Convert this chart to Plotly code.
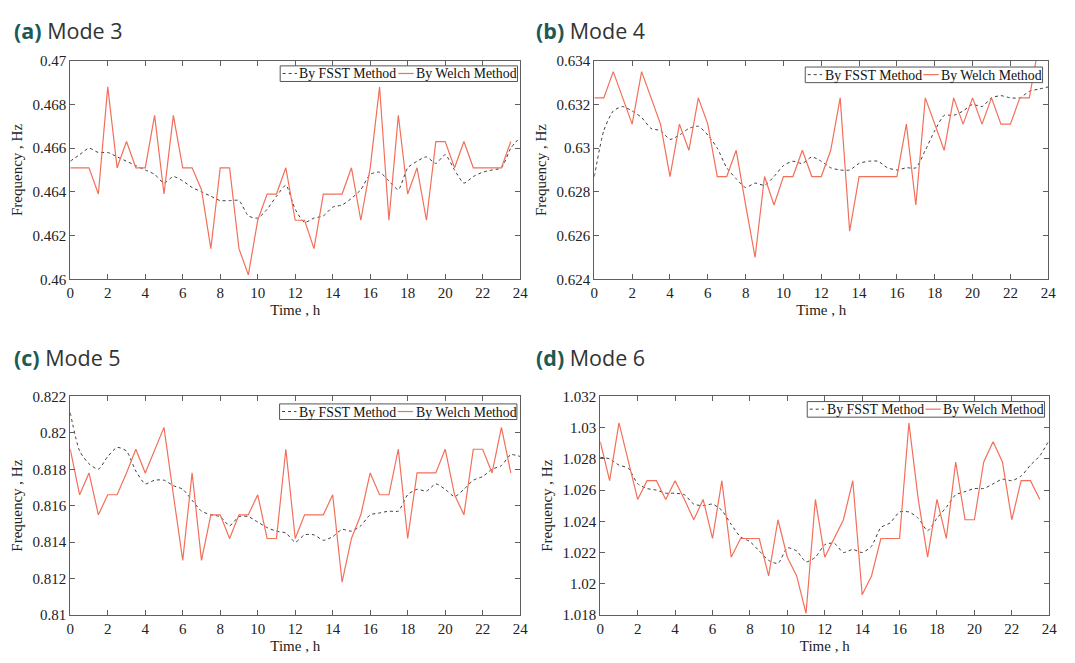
import plotly.graph_objects as go

# Sampling grids (hours)
t_welch = [i * 0.5 for i in range(48)]
t_fsst = [i * 0.5 for i in range(49)]

# Mode 3
welch_m3 = [0.4651, 0.4651, 0.4651, 0.4639, 0.4688, 0.4651, 0.4663, 0.4651, 0.4651, 0.4675,
            0.4639, 0.4675, 0.4651, 0.4651, 0.4641, 0.4614, 0.4651, 0.4651, 0.4614, 0.4602,
            0.4627, 0.4639, 0.4639, 0.4651, 0.4627, 0.4627, 0.4614, 0.4639, 0.4639, 0.4639,
            0.4651, 0.4627, 0.4651, 0.4688, 0.4627, 0.4675, 0.4639, 0.4651, 0.4627, 0.4663,
            0.4663, 0.4651, 0.4663, 0.4651, 0.4651, 0.4651, 0.4651, 0.4663]
fsst_m3 = [0.4654, 0.4657, 0.4660, 0.4658, 0.4658, 0.4656, 0.4654, 0.4652, 0.4650, 0.4648,
           0.4644, 0.4647, 0.4645, 0.4642, 0.4640, 0.4638, 0.4636, 0.4636, 0.4636, 0.4629,
           0.4628, 0.4632, 0.4638, 0.4643, 0.4632, 0.4626, 0.4628, 0.4629, 0.4633, 0.4634,
           0.4637, 0.4641, 0.4648, 0.4649, 0.4645, 0.4641, 0.4651, 0.4654, 0.4656, 0.4653,
           0.4657, 0.4650, 0.4644, 0.4647, 0.4649, 0.4650, 0.4651, 0.4660, 0.4665]

# Mode 4
welch_m4 = [0.6323, 0.6323, 0.6335, 0.6323, 0.6311, 0.6335, 0.6323, 0.6311, 0.6287, 0.6311,
            0.6299, 0.6323, 0.6311, 0.6287, 0.6287, 0.6299, 0.6274, 0.6250, 0.6287, 0.6274,
            0.6287, 0.6287, 0.6299, 0.6287, 0.6287, 0.6299, 0.6323, 0.6262, 0.6287, 0.6287,
            0.6287, 0.6287, 0.6287, 0.6311, 0.6274, 0.6323, 0.6311, 0.6299, 0.6323, 0.6311,
            0.6323, 0.6311, 0.6323, 0.6311, 0.6311, 0.6323, 0.6323, 0.6347]
fsst_m4 = [0.6287, 0.6308, 0.6317, 0.6319, 0.6317, 0.6314, 0.6309, 0.6308, 0.6304, 0.6306,
           0.6309, 0.6310, 0.6306, 0.6300, 0.6291, 0.6286, 0.6282, 0.6284, 0.6283, 0.6287,
           0.6292, 0.6294, 0.6293, 0.6296, 0.6294, 0.6291, 0.6290, 0.6290, 0.6293, 0.6294,
           0.6294, 0.6291, 0.6290, 0.6291, 0.6291, 0.6299, 0.6308, 0.6315, 0.6315, 0.6317,
           0.6320, 0.6319, 0.6323, 0.6324, 0.6323, 0.6323, 0.6326, 0.6327, 0.6328]

# Mode 5
welch_m5 = [0.8191, 0.8166, 0.8178, 0.8155, 0.8166, 0.8166, 0.8178, 0.8191, 0.8178, 0.8191,
            0.8203, 0.8166, 0.8130, 0.8178, 0.8130, 0.8155, 0.8155, 0.8142, 0.8155, 0.8155,
            0.8166, 0.8142, 0.8142, 0.8191, 0.8142, 0.8155, 0.8155, 0.8155, 0.8166, 0.8118,
            0.8142, 0.8155, 0.8178, 0.8166, 0.8166, 0.8191, 0.8142, 0.8178, 0.8178, 0.8178,
            0.8191, 0.8166, 0.8155, 0.8191, 0.8191, 0.8178, 0.8203, 0.8178]
fsst_m5 = [0.8211, 0.8190, 0.8183, 0.8180, 0.8187, 0.8192, 0.8190, 0.8179, 0.8172, 0.8174,
           0.8174, 0.8171, 0.8169, 0.8163, 0.8157, 0.8155, 0.8154, 0.8149, 0.8154, 0.8154,
           0.8151, 0.8148, 0.8146, 0.8145, 0.8140, 0.8144, 0.8144, 0.8141, 0.8143, 0.8147,
           0.8146, 0.8149, 0.8155, 0.8156, 0.8157, 0.8157, 0.8166, 0.8169, 0.8168, 0.8172,
           0.8169, 0.8165, 0.8169, 0.8174, 0.8176, 0.8180, 0.8182, 0.8188, 0.8187]

# Mode 6
welch_m6 = [1.0291, 1.0266, 1.0303, 1.0278, 1.0254, 1.0266, 1.0266, 1.0254, 1.0266, 1.0254,
            1.0241, 1.0254, 1.0229, 1.0266, 1.0217, 1.0229, 1.0229, 1.0229, 1.0205, 1.0241,
            1.0217, 1.0205, 1.0181, 1.0254, 1.0217, 1.0229, 1.0241, 1.0266, 1.0193, 1.0205,
            1.0229, 1.0229, 1.0229, 1.0303, 1.0254, 1.0217, 1.0254, 1.0229, 1.0278, 1.0241,
            1.0241, 1.0278, 1.0291, 1.0278, 1.0241, 1.0266, 1.0266, 1.0254]
fsst_m6 = [1.0281, 1.0280, 1.0276, 1.0274, 1.0264, 1.0261, 1.0260, 1.0258, 1.0258, 1.0257,
           1.0251, 1.0250, 1.0251, 1.0247, 1.0238, 1.0230, 1.0227, 1.0221, 1.0215, 1.0213,
           1.0223, 1.0221, 1.0214, 1.0217, 1.0225, 1.0226, 1.0220, 1.0222, 1.0220, 1.0224,
           1.0236, 1.0239, 1.0246, 1.0246, 1.0242, 1.0234, 1.0242, 1.0249, 1.0257, 1.0259,
           1.0261, 1.0261, 1.0264, 1.0267, 1.0266, 1.0269, 1.0276, 1.0282, 1.0292]

panel_labels = ["(a)", "(b)", "(c)", "(d)"]
panel_names = ["Mode 3", "Mode 4", "Mode 5", "Mode 6"]
series_names = ["By FSST Method", "By Welch Method"]
y_ranges = [[0.46, 0.47], [0.624, 0.634], [0.81, 0.822], [1.018, 1.032]]
fsst_series = [fsst_m3, fsst_m4, fsst_m5, fsst_m6]
welch_series = [welch_m3, welch_m4, welch_m5, welch_m6]

W, H = 1075, 663
# plot boxes in pixels: (left, right, top, bottom)
boxes = [(67, 522, 54, 278), (597, 1056, 54, 278),
         (67, 522, 398, 622), (603, 1057, 398, 622)]
# legend box: right edge and top edge in pixels
legend_pos = [(519.3, 59.3), (1050.3, 60.5), (518.7, 405.7), (1052.3, 403.3)]
title_pos = [(8, 23), (536, 23), (8, 358), (536, 358)]

RED = "#f36f5a"
DOT = "#3c3c3c"
SERIF = "Liberation Serif"
AXC = "#5f5f5f"


def px(x):
    return x / W


def py(y):
    return 1 - y / H


fig = go.Figure()
layout = dict(width=W, height=H, margin=dict(l=0, r=0, t=0, b=0),
              font=dict(family=SERIF, size=15, color="#222"),
              paper_bgcolor="white", plot_bgcolor="white", showlegend=False,
              annotations=[], shapes=[])

for k in range(4):
    n = "" if k == 0 else str(k + 1)
    fig.add_trace(go.Scatter(x=t_fsst, y=fsst_series[k], mode="lines", name=series_names[0],
                             line=dict(color=DOT, width=1, dash="dot", shape="spline", smoothing=0.6),
                             xaxis="x" + n, yaxis="y" + n))
    fig.add_trace(go.Scatter(x=t_welch, y=welch_series[k], mode="lines", name=series_names[1],
                             line=dict(color=RED, width=1.2),
                             xaxis="x" + n, yaxis="y" + n))
    l, r, t, b = boxes[k]
    axis_common = dict(showline=True, linecolor=AXC, linewidth=1, mirror="ticks",
                       ticks="inside", ticklen=5, tickcolor=AXC, showgrid=False, zeroline=False,
                       tickfont=dict(family=SERIF, size=15, color="#222"))
    layout["xaxis" + n] = dict(axis_common, domain=[px(l), px(r)], range=[0, 24], dtick=2,
                               anchor="y" + n,
                               title=dict(text="Time , h", font=dict(family=SERIF, size=15, color="#222"),
                                          standoff=4))
    layout["yaxis" + n] = dict(axis_common, domain=[py(b), py(t)], range=y_ranges[k],
                               dtick=0.002, anchor="x" + n,
                               title=dict(text="Frequency , Hz", font=dict(family=SERIF, size=15, color="#222"),
                                          standoff=6))

    # boxed legend in the upper-right corner of each panel
    lr, lt = legend_pos[k]
    ll, lb = lr - 240, lt + 16
    lc = lt + 7.8
    layout["shapes"].append(dict(type="rect", xref="paper", yref="paper",
                                 x0=px(ll), x1=px(lr), y0=py(lb), y1=py(lt),
                                 line=dict(color="#555", width=1), fillcolor="white", layer="above"))
    layout["shapes"].append(dict(type="line", xref="paper", yref="paper",
                                 x0=px(ll + 2.5), x1=px(ll + 17), y0=py(lc), y1=py(lc),
                                 line=dict(color=DOT, width=1, dash="dot"), layer="above"))
    layout["shapes"].append(dict(type="line", xref="paper", yref="paper",
                                 x0=px(ll + 119.5), x1=px(ll + 135), y0=py(lc), y1=py(lc),
                                 line=dict(color=RED, width=1.2), layer="above"))
    for name, xoff in zip(series_names, [17.5, 135.5]):
        layout["annotations"].append(dict(
            x=px(ll + xoff), y=py(lc + 0.5), xref="paper", yref="paper", xanchor="left",
            yanchor="middle", showarrow=False, text=name,
            font=dict(family=SERIF, size=13.8, color="#111")))

    tx, ty = title_pos[k]
    layout["annotations"].append(dict(
        x=px(tx), y=py(ty), xref="paper", yref="paper", xanchor="left", yanchor="middle",
        showarrow=False,
        text="<b><span style='color:#1d5a54'>%s</span></b> %s" % (panel_labels[k], panel_names[k]),
        font=dict(family="Open Sans", size=21.5, color="#333")))

fig.update_layout(**layout)
fig.write_html("out.html")
